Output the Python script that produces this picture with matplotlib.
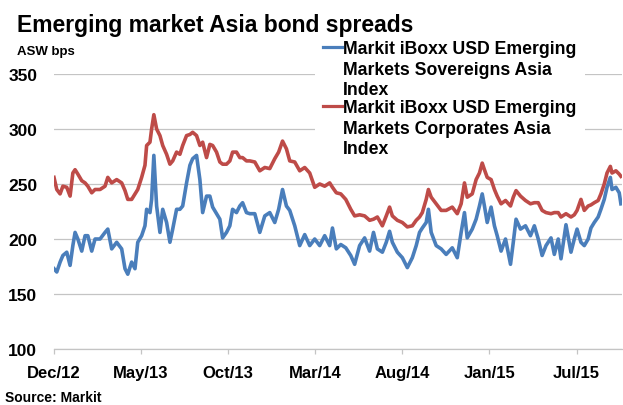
import matplotlib.pyplot as plt
from matplotlib.lines import Line2D
from matplotlib.patches import Rectangle

plt.rcParams["font.family"] = ["Liberation Sans", "DejaVu Sans"]
plt.rcParams["font.weight"] = "bold"

# ----------------------------------------------------------------
# DATA  (days since 1 Dec 2012, ASW spread in bps)
# ----------------------------------------------------------------
day = [
    0, 5, 11, 16, 23, 29, 34, 38, 43, 50, 56, 61, 68, 74, 83, 92, 97, 104,
    113, 122, 128, 133, 140, 146, 151, 158, 164, 167, 173, 176, 180, 185,
    191, 196, 203, 209, 214, 221, 227, 232, 239, 245, 250, 257, 263, 268,
    275, 281, 286, 293, 299, 304, 311, 317, 322, 329, 335, 340, 347, 353,
    362, 371, 380, 389, 398, 405, 412, 419, 425, 434, 443, 452, 461, 470,
    479, 488, 497, 502, 509, 517, 526, 535, 542, 551, 560, 569, 576, 583,
    592, 599, 605, 610, 619, 628, 637, 646, 653, 659, 664, 671, 675, 680,
    689, 698, 707, 718, 727, 734, 740, 745, 754, 761, 767, 772, 776, 781,
    788, 794, 799, 806, 814, 823, 828, 833, 841, 850, 859, 866, 873, 880,
    887, 896, 902, 909, 914, 923, 932, 938, 943, 950, 956, 963, 968, 974,
    981, 986, 992, 997, 1003, 1006, 1013, 1019, 1022,
]

sovereigns = [
    173, 170, 179, 185, 188, 176, 194, 206, 200, 189, 203, 203, 189, 200,
    200, 206, 209, 191, 197, 191, 173, 168, 179, 173, 197, 203, 212, 227,
    224, 236, 276, 230, 206, 227, 215, 197, 209, 227, 227, 230, 251, 267,
    273, 276, 254, 224, 239, 239, 229, 223, 218, 201, 206, 212, 227, 224,
    230, 233, 224, 223,
    223, 206, 221, 224, 215, 227, 245, 230, 226, 212, 194, 204, 194, 200,
    194, 203, 194, 210, 191, 195, 192, 185, 177, 194, 201, 189, 206, 191,
    188, 197, 207, 197, 188, 183, 174, 183, 194, 206, 210, 215, 227, 206,
    194, 191,
    186, 192, 183, 206, 224, 201, 209, 218, 230, 241, 230, 215, 229, 212,
    203, 189, 200, 177, 197, 218, 209, 212, 203, 212, 200, 185, 194, 201,
    186, 200, 182, 213, 188, 200, 209, 197, 194, 200, 210, 215, 220, 227,
    236, 247, 256, 245, 247, 242, 232,
]

corporates = [
    256, 245, 241, 248, 247, 239, 260, 263, 259, 253, 251, 248, 242, 245,
    245, 248, 256, 251, 254, 251, 244, 236, 236, 241, 245, 256, 267, 285,
    288, 300, 313, 300, 294, 285, 277, 268, 271, 279, 277, 285, 294, 295,
    297, 294, 285, 288, 274, 286, 285, 279, 270, 268, 268, 271, 279, 279,
    274, 274, 271, 271,
    270, 262, 265, 264, 273, 279, 289, 282, 271, 270, 262, 265, 260, 247,
    250, 248, 251, 247, 242, 241, 236, 227, 221, 222, 221, 217, 218, 220,
    212, 221, 229, 221, 217, 215, 211, 212, 217, 220, 224, 236, 245, 238,
    232, 226,
    226, 229, 223, 232, 251, 238, 241, 254, 260, 269, 263, 256, 254, 245,
    239, 232, 235, 230, 238, 244, 239, 235, 232, 233, 233, 226, 224, 223,
    224, 224, 220, 223, 220, 222, 226, 236, 226, 230, 231, 233, 235, 241,
    250, 260, 266, 260, 262, 259, 257,
]

tick_days   = [0, 157, 314, 471, 628, 785, 942]
tick_labels = ["Dec/12", "May/13", "Oct/13", "Mar/14", "Aug/14", "Jan/15", "Jul/15"]
y_ticks     = [100, 150, 200, 250, 300, 350]

sov_label  = "Markit iBoxx USD Emerging\nMarkets Sovereigns Asia\nIndex"
corp_label = "Markit iBoxx USD Emerging\nMarkets Corporates Asia\nIndex"

BLUE = "#4a7ebb"
RED  = "#be4b48"
GRID = "#c4c4c4"

W, H = 623, 406

def fx(px):
    return px / W

def fy(py):
    return 1 - py / H


# ----------------------------------------------------------------
# FIGURE
# ----------------------------------------------------------------
fig = plt.figure(figsize=(W / 100, H / 100), dpi=100)
ax = fig.add_axes([fx(54), fy(350), fx(568), 275 / H])

ax.plot(day, sovereigns, color=BLUE, lw=2.6, solid_joinstyle="round")
ax.plot(day, corporates, color=RED, lw=2.6, solid_joinstyle="round")

ax.set_ylim(100, 350)
ax.set_xlim(0, 1024)
ax.set_yticks(y_ticks)
ax.set_xticks(tick_days)
ax.set_xticklabels(tick_labels)

ax.grid(axis="y", color=GRID, lw=0.9)
ax.set_axisbelow(True)
for side in ["left", "right", "top"]:
    ax.spines[side].set_visible(False)
ax.spines["bottom"].set_color(GRID)
ax.spines["bottom"].set_linewidth(0.9)

ax.tick_params(axis="y", length=0, pad=12, labelsize=12.5)
ax.tick_params(axis="x", length=3.5, width=0.9, color=GRID,
               pad=8, labelsize=12)

# titles and notes
fig.text(fx(17), fy(14), "Emerging market Asia bond spreads",
         fontsize=16.5, fontweight="bold", va="top", ha="left")
fig.text(fx(17), fy(46), "ASW bps", fontsize=9.5, va="top", ha="left")
fig.text(fx(5), fy(391), "Source: Markit", fontsize=10, va="top", ha="left")

# legend (white box hides the gridlines behind it)
fig.patches.append(Rectangle((fx(315), fy(160)), fx(270), 122 / H,
                             transform=fig.transFigure, facecolor="white",
                             edgecolor="none", zorder=1))
for label, color, top in [(sov_label, BLUE, 41), (corp_label, RED, 100)]:
    fig.lines.append(Line2D([fx(323), fx(342)], [fy(top + 7)] * 2,
                            transform=fig.transFigure, color=color,
                            lw=2.3, zorder=2))
    fig.text(fx(343), fy(top), label, fontsize=12.7, va="top", ha="left",
             linespacing=1.28, zorder=2)

plt.savefig("out.png", dpi=100)
